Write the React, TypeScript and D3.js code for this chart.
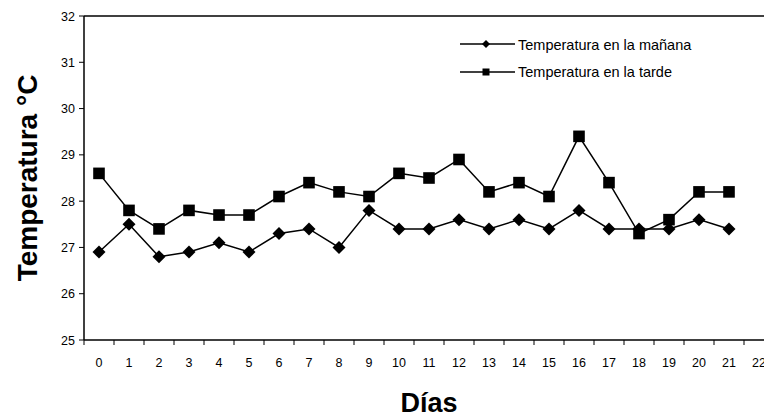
import React from "react";
import { scaleBand, scaleLinear, line, range } from "d3";

const days = range(0, 23).map(String);
const yTicks = [25, 26, 27, 28, 29, 30, 31, 32];
const morning = [26.9, 27.5, 26.8, 26.9, 27.1, 26.9, 27.3, 27.4, 27.0, 27.8, 27.4, 27.4, 27.6, 27.4, 27.6, 27.4, 27.8, 27.4, 27.4, 27.4, 27.6, 27.4];
const afternoon = [28.6, 27.8, 27.4, 27.8, 27.7, 27.7, 28.1, 28.4, 28.2, 28.1, 28.6, 28.5, 28.9, 28.2, 28.4, 28.1, 29.4, 28.4, 27.3, 27.6, 28.2, 28.2];
const seriesNames = ["Temperatura en la mañana", "Temperatura en la tarde"];

const width = 764;
const height = 419;
const left = 84, top = 16, right = 774, bottom = 340;
const font = "'Liberation Sans', Arial, sans-serif";

function Diamond({ x, y, r }) {
  return <path d={`M${x},${y - r}L${x + r},${y}L${x},${y + r}L${x - r},${y}Z`} fill="#000" />;
}
function Square({ x, y, r }) {
  return <rect x={x - r} y={y - r} width={2 * r} height={2 * r} fill="#000" />;
}

export default function App() {
  const x = scaleBand().domain(days).range([left, right]).padding(0);
  const y = scaleLinear().domain([25, 32]).range([bottom, top]);
  const cx = (i) => x(String(i)) + x.bandwidth() / 2;
  const path = line().x((d, i) => cx(i)).y((d) => y(d));

  return (
    <svg width={width} height={height} style={{ position: "absolute", left: 0, top: 0, background: "#fff" }} fontFamily={font}>
      {/* frame */}
      <line x1={left} x2={right} y1={top} y2={top} stroke="#000" strokeWidth={1.3} />
      <line x1={right} x2={right} y1={top} y2={bottom} stroke="#000" strokeWidth={1.3} />
      <line x1={left} x2={left} y1={top} y2={bottom} stroke="#000" strokeWidth={1.5} />
      <line x1={left} x2={right} y1={bottom} y2={bottom} stroke="#000" strokeWidth={1.5} />

      {/* y axis */}
      {yTicks.map((t) => (
        <g key={t}>
          <line x1={left - 5} x2={left} y1={y(t)} y2={y(t)} stroke="#000" strokeWidth={1} />
          <text x={left - 9} y={y(t) + 4.5} textAnchor="end" fontSize={12.5} fill="#000">{t}</text>
        </g>
      ))}

      {/* x axis */}
      {days.map((d) => (
        <g key={d}>
          <line x1={x(d)} x2={x(d)} y1={bottom} y2={bottom + 5} stroke="#000" strokeWidth={1} />
          <text x={x(d) + x.bandwidth() / 2} y={bottom + 26.5} textAnchor="middle" fontSize={12.5} fill="#000">{d}</text>
        </g>
      ))}

      {/* lines */}
      <path d={path(morning)} fill="none" stroke="#000" strokeWidth={1.5} />
      <path d={path(afternoon)} fill="none" stroke="#000" strokeWidth={1.5} />
      {morning.map((v, i) => <Diamond key={"m" + i} x={cx(i)} y={y(v)} r={6.5} />)}
      {afternoon.map((v, i) => <Square key={"a" + i} x={cx(i)} y={y(v)} r={5.8} />)}

      {/* legend */}
      <line x1={460} x2={515} y1={44} y2={44} stroke="#000" strokeWidth={1.5} />
      <Diamond x={486} y={44} r={4} />
      <text x={518} y={49.5} fontSize={14.5} fill="#000">{seriesNames[0]}</text>
      <line x1={460} x2={515} y1={72} y2={72} stroke="#000" strokeWidth={1.5} />
      <Square x={486} y={72} r={3.5} />
      <text x={518} y={77} fontSize={14.5} fill="#000">{seriesNames[1]}</text>

      {/* titles */}
      <text transform={`translate(37,${(top + bottom) / 2}) rotate(-90)`} textAnchor="middle" fontSize={28} fontWeight="bold" fill="#000">Temperatura °C</text>
      <text x={(left + right) / 2} y={412} textAnchor="middle" fontSize={27} fontWeight="bold" fill="#000">Días</text>
    </svg>
  );
}
